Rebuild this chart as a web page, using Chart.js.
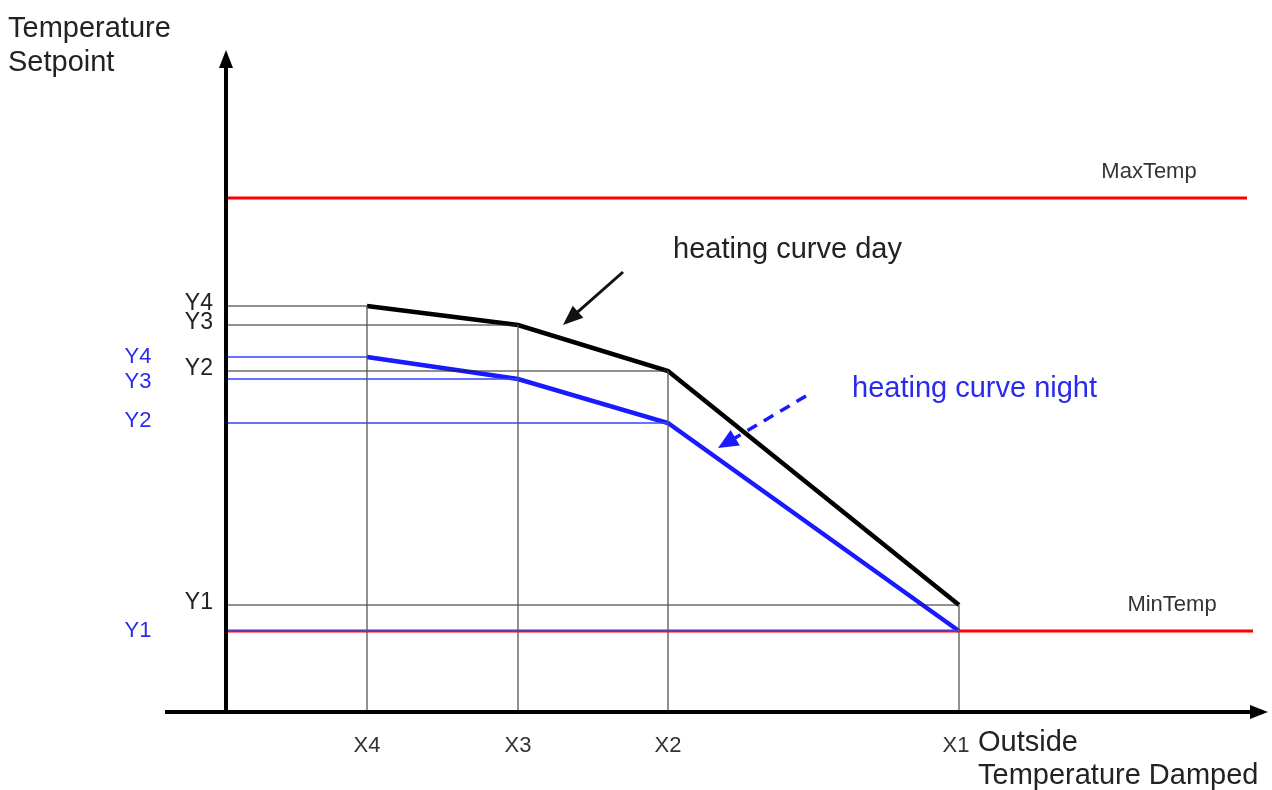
<!DOCTYPE html>
<html>
<head>
<meta charset="utf-8">
<script src="https://cdn.jsdelivr.net/npm/chart.js@4/dist/chart.umd.min.js"></script>
<style>
  body { margin: 0; background: #fff; }
  #wrap { width: 1272px; height: 790px; }
</style>
</head>
<body>
<div id="wrap"><canvas id="curveChart" width="1272" height="790"></canvas></div>
<script>
const xLabels = ["X1", "X2", "X3", "X4"];
const xPos = [733, 442, 292, 141];
const dayY = [107, 341, 387, 406];
const nightY = [81, 289, 333, 355];
const yLabels = ["Y1", "Y2", "Y3", "Y4"];
const maxTemp = 514;
const minTemp = 81;
const maxTempEnd = 1021;
const minTempEnd = 1027;
const xMax = 1039;
const yMax = 657;

const BLUE = "#1a1aff";
const RED = "#ff0000";
const FONT = "'Liberation Sans', Arial, sans-serif";

function seg(points, color, width, extra) {
  return Object.assign({
    data: points.map(p => ({ x: p[0], y: p[1] })),
    borderColor: color,
    borderWidth: width,
    pointRadius: 0,
    fill: false,
    tension: 0,
    clip: false,
  }, extra || {});
}

const datasets = [];
// vertical guide lines from the x axis up to the day curve
xPos.forEach((x, i) => datasets.push(seg([[x, 0], [x, dayY[i]]], "#555", 1.3)));
// horizontal guide lines for day values
xPos.forEach((x, i) => datasets.push(seg([[0, dayY[i]], [x, dayY[i]]], "#222", 1.2)));
// horizontal guide lines for night values
xPos.forEach((x, i) => datasets.push(seg([[0, nightY[i]], [x, nightY[i]]], "#3344ff", 1.5)));
// limits
datasets.push(seg([[0, maxTemp], [maxTempEnd, maxTemp]], RED, 3));
datasets.push(seg([[0, minTemp], [minTempEnd, minTemp]], RED, 3));
datasets.push(seg([[0, minTemp], [xPos[0], minTemp]], "#5010d0", 1.5));
// curves
datasets.push(seg(xPos.map((x, i) => [x, dayY[i]]), "#000", 4.5, { borderJoinStyle: "miter" }));
datasets.push(seg(xPos.map((x, i) => [x, nightY[i]]), BLUE, 4.5, { borderJoinStyle: "miter" }));

function arrow(ctx, x1, y1, x2, y2, color, width, dash, head, headW) {
  const a = Math.atan2(y2 - y1, x2 - x1);
  ctx.save();
  ctx.strokeStyle = color;
  ctx.fillStyle = color;
  ctx.lineWidth = width;
  ctx.setLineDash(dash);
  ctx.beginPath();
  ctx.moveTo(x1, y1);
  ctx.lineTo(x2 - Math.cos(a) * head * 0.8, y2 - Math.sin(a) * head * 0.8);
  ctx.stroke();
  ctx.setLineDash([]);
  ctx.beginPath();
  ctx.moveTo(x2, y2);
  ctx.lineTo(x2 - Math.cos(a) * head - Math.sin(a) * headW, y2 - Math.sin(a) * head + Math.cos(a) * headW);
  ctx.lineTo(x2 - Math.cos(a) * head + Math.sin(a) * headW, y2 - Math.sin(a) * head - Math.cos(a) * headW);
  ctx.closePath();
  ctx.fill();
  ctx.restore();
}

const diagramPlugin = {
  id: "diagram",
  afterDatasetsDraw(chart) {
    const ctx = chart.ctx;
    const xs = chart.scales.x, ys = chart.scales.y;
    const ox = xs.getPixelForValue(0), oy = ys.getPixelForValue(0);

    // axes
    arrow(ctx, ox, oy + 2, ox, ys.getPixelForValue(yMax) - 5, "#000", 4, [], 18, 7);
    arrow(ctx, ox - 61, oy, xs.getPixelForValue(xMax) + 3, oy, "#000", 4, [], 18, 7);

    // pointer arrows
    arrow(ctx, xs.getPixelForValue(397), ys.getPixelForValue(440),
      xs.getPixelForValue(337), ys.getPixelForValue(387), "#111", 3, [], 20, 8);
    arrow(ctx, xs.getPixelForValue(580), ys.getPixelForValue(316),
      xs.getPixelForValue(492), ys.getPixelForValue(264), BLUE, 3.5, [11, 8], 20, 9);

    ctx.save();
    ctx.textBaseline = "middle";
    ctx.font = "29px " + FONT;
    ctx.fillStyle = "#222";
    ctx.textAlign = "left";
    ctx.fillText("Temperature", 8, 29);
    ctx.fillText("Setpoint", 8, 63);
    ctx.fillText("Outside", xs.getPixelForValue(xPos[0]) + 19, oy + 31);
    ctx.fillText("Temperature Damped", xs.getPixelForValue(xPos[0]) + 19, oy + 64);

    ctx.fillText("heating curve day", 673, 250);
    ctx.fillStyle = "#2a2aee";
    ctx.fillText("heating curve night", 852, 389);

    ctx.font = "22px " + FONT;
    ctx.fillStyle = "#333";
    ctx.textAlign = "center";
    ctx.fillText("MaxTemp", 1149, ys.getPixelForValue(maxTemp) - 26);
    ctx.fillText("MinTemp", 1172, ys.getPixelForValue(minTemp) - 26);

    // x tick labels
    xLabels.forEach((t, i) => {
      ctx.fillText(t, xs.getPixelForValue(xPos[i]) - (i === 0 ? 3 : 0), oy + 34);
    });

    // y tick labels, day (black) and night (blue)
    ctx.font = "23px " + FONT;
    ctx.textAlign = "right";
    yLabels.forEach((t, i) => {
      ctx.fillStyle = "#222";
      ctx.fillText(t, ox - 13, ys.getPixelForValue(dayY[i]) - 2);
    });
    ctx.font = "22px " + FONT;
    ctx.textAlign = "center";
    ctx.fillStyle = "#2a2aee";
    const nightOffsets = [0, -2, 3, 0];
    yLabels.forEach((t, i) => {
      ctx.fillText(t, 138, ys.getPixelForValue(nightY[i]) + nightOffsets[i]);
    });
    ctx.restore();
  },
};

new Chart(document.getElementById("curveChart").getContext("2d"), {
  type: "line",
  data: { datasets: datasets },
  options: {
    responsive: false,
    animation: false,
    events: [],
    layout: { padding: { left: 226, right: 7, top: 55, bottom: 78 } },
    plugins: { legend: { display: false }, tooltip: { enabled: false } },
    scales: {
      x: { type: "linear", min: 0, max: xMax, display: false },
      y: { type: "linear", min: 0, max: yMax, display: false },
    },
  },
  plugins: [diagramPlugin],
});
</script>
</body>
</html>
